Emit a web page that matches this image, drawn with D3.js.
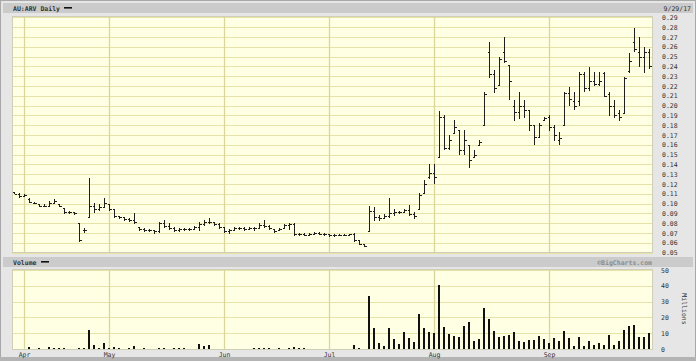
<!DOCTYPE html>
<html>
<head>
<meta charset="utf-8">
<script src="https://cdnjs.cloudflare.com/ajax/libs/d3/7.8.5/d3.min.js"></script>
<style>
  body { margin: 0; background: #fff; }
  svg { display: block; }
  .lbl { font-family: "DejaVu Sans Mono", monospace; font-size: 6.5px; fill: #333; }
  .hdr { font-family: "DejaVu Sans Mono", monospace; font-size: 6.5px; font-weight: bold; fill: #333; }
</style>
</head>
<body>
<svg id="chart" width="696" height="361"></svg>
<script>
// trading days 30 Mar 2017 .. 29 Sep 2017 (index 0..127)
var monthLabels = ["Apr", "May", "Jun", "Jul", "Aug", "Sep"];
var monthStart = [2, 19, 42, 63, 84, 107];

var priceTicks = [0.29, 0.28, 0.27, 0.26, 0.25, 0.24, 0.23, 0.22, 0.21, 0.20,
  0.19, 0.18, 0.17, 0.16, 0.15, 0.14, 0.13, 0.12, 0.11, 0.10, 0.09, 0.08,
  0.07, 0.06, 0.05];
var volumeTicks = [0, 10, 20, 30, 40, 50];

var high = [0.112, 0.111, 0.110, 0.106, 0.102, 0.100, 0.100, 0.103, 0.105, 0.100,
  0.095, 0.092, 0.091, 0.080, 0.075, 0.126, 0.101, 0.100, 0.106, 0.100,
  0.095, 0.087, 0.086, 0.085, 0.090, 0.076, 0.075, 0.074, 0.073, 0.081,
  0.083, 0.080, 0.076, 0.075, 0.075, 0.075, 0.077, 0.081, 0.083, 0.085,
  0.081, 0.080, 0.076, 0.074, 0.076, 0.076, 0.076, 0.076, 0.076, 0.080,
  0.083, 0.078, 0.074, 0.075, 0.079, 0.080, 0.080, 0.070, 0.070, 0.070,
  0.071, 0.071, 0.070, 0.069, 0.069, 0.069, 0.069, 0.069, 0.070, 0.063,
  0.059, 0.098, 0.097, 0.088, 0.089, 0.106, 0.095, 0.092, 0.094, 0.099,
  0.091, 0.111, 0.124, 0.140, 0.140, 0.195, 0.190, 0.170, 0.185, 0.175,
  0.175, 0.160, 0.155, 0.165, 0.214, 0.265, 0.236, 0.250, 0.270, 0.241,
  0.206, 0.214, 0.206, 0.196, 0.180, 0.182, 0.188, 0.190, 0.180, 0.173,
  0.214, 0.219, 0.214, 0.234, 0.234, 0.239, 0.234, 0.234, 0.234, 0.214,
  0.206, 0.196, 0.229, 0.254, 0.279, 0.270, 0.260, 0.258];
var low = [0.110, 0.106, 0.107, 0.101, 0.100, 0.097, 0.097, 0.098, 0.100, 0.097,
  0.090, 0.090, 0.089, 0.061, 0.071, 0.086, 0.091, 0.093, 0.097, 0.093,
  0.086, 0.085, 0.083, 0.082, 0.080, 0.073, 0.072, 0.072, 0.070, 0.071,
  0.076, 0.074, 0.072, 0.072, 0.073, 0.073, 0.074, 0.073, 0.078, 0.080,
  0.078, 0.075, 0.071, 0.070, 0.073, 0.074, 0.073, 0.074, 0.073, 0.075,
  0.076, 0.074, 0.071, 0.073, 0.075, 0.074, 0.068, 0.068, 0.068, 0.068,
  0.070, 0.069, 0.068, 0.067, 0.067, 0.068, 0.068, 0.068, 0.061, 0.058,
  0.056, 0.072, 0.083, 0.083, 0.085, 0.086, 0.088, 0.090, 0.091, 0.088,
  0.085, 0.094, 0.111, 0.126, 0.121, 0.148, 0.155, 0.155, 0.172, 0.150,
  0.150, 0.137, 0.147, 0.160, 0.180, 0.229, 0.213, 0.221, 0.244, 0.206,
  0.185, 0.187, 0.188, 0.175, 0.160, 0.168, 0.185, 0.175, 0.165, 0.160,
  0.180, 0.200, 0.196, 0.200, 0.214, 0.216, 0.221, 0.221, 0.209, 0.190,
  0.188, 0.185, 0.192, 0.234, 0.255, 0.240, 0.234, 0.238];
var open = [0.112, 0.110, 0.108, 0.105, 0.101, 0.100, 0.098, 0.098, 0.101, 0.100,
  0.095, 0.091, 0.091, 0.080, 0.073, 0.086, 0.098, 0.094, 0.097, 0.100,
  0.094, 0.087, 0.086, 0.084, 0.083, 0.076, 0.074, 0.073, 0.073, 0.072,
  0.080, 0.077, 0.075, 0.073, 0.074, 0.074, 0.074, 0.076, 0.079, 0.081,
  0.081, 0.079, 0.076, 0.072, 0.073, 0.075, 0.075, 0.074, 0.075, 0.075,
  0.078, 0.077, 0.074, 0.073, 0.075, 0.078, 0.079, 0.069, 0.069, 0.068,
  0.069, 0.070, 0.069, 0.069, 0.068, 0.068, 0.068, 0.068, 0.069, 0.063,
  0.059, 0.072, 0.092, 0.086, 0.085, 0.087, 0.090, 0.091, 0.091, 0.093,
  0.089, 0.094, 0.111, 0.127, 0.131, 0.148, 0.188, 0.157, 0.172, 0.175,
  0.155, 0.160, 0.148, 0.160, 0.180, 0.255, 0.232, 0.221, 0.255, 0.241,
  0.200, 0.193, 0.200, 0.196, 0.180, 0.168, 0.185, 0.188, 0.178, 0.165,
  0.180, 0.213, 0.205, 0.205, 0.232, 0.218, 0.225, 0.222, 0.233, 0.212,
  0.200, 0.192, 0.192, 0.235, 0.265, 0.255, 0.250, 0.255];
var close = [0.110, 0.108, 0.109, 0.102, 0.101, 0.098, 0.098, 0.101, 0.103, 0.098,
  0.091, 0.091, 0.090, 0.063, 0.073, 0.098, 0.094, 0.097, 0.101, 0.094,
  0.087, 0.086, 0.084, 0.083, 0.081, 0.074, 0.073, 0.073, 0.072, 0.080,
  0.077, 0.075, 0.073, 0.074, 0.074, 0.074, 0.076, 0.079, 0.081, 0.081,
  0.079, 0.076, 0.072, 0.073, 0.075, 0.075, 0.074, 0.075, 0.075, 0.078,
  0.077, 0.075, 0.072, 0.074, 0.078, 0.079, 0.069, 0.069, 0.068, 0.069,
  0.070, 0.069, 0.069, 0.068, 0.068, 0.068, 0.068, 0.069, 0.063, 0.059,
  0.057, 0.092, 0.086, 0.085, 0.087, 0.090, 0.091, 0.091, 0.093, 0.089,
  0.087, 0.109, 0.120, 0.131, 0.127, 0.188, 0.157, 0.165, 0.178, 0.155,
  0.165, 0.145, 0.150, 0.163, 0.212, 0.232, 0.218, 0.248, 0.245, 0.225,
  0.193, 0.200, 0.195, 0.180, 0.168, 0.180, 0.187, 0.178, 0.170, 0.167,
  0.213, 0.207, 0.200, 0.232, 0.218, 0.225, 0.222, 0.225, 0.210, 0.200,
  0.190, 0.188, 0.228, 0.245, 0.258, 0.250, 0.255, 0.240];
// millions of shares
var volume = [0.3, 0.2, 0.2, 1.0, 0.3, 0.4, 0.2, 1.3, 0.4, 0.4,
  0.4, 0.2, 0.3, 0.4, 0.4, 12.0, 2.5, 0.5, 3.6, 0.8,
  1.0, 0.5, 0.2, 0.5, 1.9, 0.2, 0.4, 0.2, 0.2, 0.4,
  0.4, 0.2, 0.4, 0.4, 0.4, 0.2, 0.2, 3.4, 2.1, 2.5,
  0.2, 0.2, 0.2, 0.3, 0.2, 0.3, 0.2, 0.2, 0.5, 0.8,
  0.6, 0.6, 0.3, 0.6, 0.3, 0.9, 1.2, 0.8, 0.4, 0.3,
  0.3, 0.3, 0.3, 0.3, 0.3, 0.2, 0.2, 0.2, 2.8, 0.9,
  0.1, 33.6, 13.4, 3.6, 1.7, 13.0, 6.4, 3.2, 11.0, 7.0,
  4.7, 22.3, 13.4, 10.9, 10.0, 40.6, 14.0, 9.8, 8.5, 7.7,
  14.7, 17.2, 5.3, 6.4, 25.7, 18.7, 11.3, 7.4, 8.3, 9.1,
  10.9, 5.3, 4.3, 5.7, 6.0, 8.1, 6.2, 4.0, 7.0, 5.1,
  11.5, 7.0, 2.1, 7.4, 2.1, 5.3, 2.6, 3.6, 2.8, 9.1,
  2.8, 5.1, 12.1, 14.5, 14.9, 7.9, 7.9, 10.0];

var svg = d3.select("#chart");
var W = 696, H = 361;
var left = 12, right = 653;
var pTop = 16, pBot = 253;
var vTop = 269, vBot = 350;

var days = d3.range(high.length);

var x = d3.scaleLinear().domain([-0.4, 127.8]).range([left, right]);
var y = d3.scaleLinear().domain([0.05, 0.29]).range([252.6, 17.4]);
var yv = d3.scaleLinear().domain([0, 50]).range([349, 270]);

// background + frame
svg.append("rect").attr("width", W).attr("height", H).attr("fill", "#e6e6e6");
svg.append("rect").attr("x", 0.5).attr("y", 0.5).attr("width", W - 1).attr("height", H - 1)
  .attr("fill", "none").attr("stroke", "#a8a8a8");
svg.append("rect").attr("x", 0).attr("y", 357).attr("width", W).attr("height", 4).attr("fill", "#b4b4b4");

// header bars
svg.append("rect").attr("x", 3).attr("y", 3).attr("width", 690).attr("height", 10).attr("fill", "#cbcbcb");
svg.append("rect").attr("x", 3).attr("y", 257).attr("width", 690).attr("height", 10).attr("fill", "#cbcbcb");

svg.append("text").attr("class", "hdr").attr("x", 13).attr("y", 10.5).text("AU:ARV Daily");
svg.append("rect").attr("x", 64).attr("y", 7).attr("width", 8).attr("height", 1.6).attr("fill", "#111");
svg.append("text").attr("class", "hdr").attr("x", 691).attr("y", 10.5)
  .attr("text-anchor", "end").style("font-weight", "normal").text("9/29/17");

svg.append("text").attr("class", "hdr").attr("x", 13).attr("y", 264.5).text("Volume");
svg.append("rect").attr("x", 41).attr("y", 261).attr("width", 8).attr("height", 1.6).attr("fill", "#111");
svg.append("text").attr("class", "hdr").attr("x", 652).attr("y", 264.5)
  .attr("text-anchor", "end").style("fill", "#8c8c8c").text("\u00A9BigCharts.com");

// panels
function panel(y0, y1, ticks, scale) {
  var g = svg.append("g");
  g.append("rect").attr("x", left).attr("y", y0).attr("width", right - left).attr("height", y1 - y0)
    .attr("fill", "#ffffe3");
  g.selectAll(".hg").data(ticks).enter().append("line")
    .attr("x1", left).attr("x2", right)
    .attr("y1", function (d) { return Math.round(scale(d)) + 0.5; })
    .attr("y2", function (d) { return Math.round(scale(d)) + 0.5; })
    .attr("stroke", "#e7e3a8").attr("stroke-width", 1);
  g.selectAll(".vg").data(monthStart).enter().append("line")
    .attr("x1", function (d) { return Math.round(x(d)) + 0.5; })
    .attr("x2", function (d) { return Math.round(x(d)) + 0.5; })
    .attr("y1", y0).attr("y2", y1)
    .attr("stroke", "#d9d69c").attr("stroke-width", 1.3);
  g.append("rect").attr("x", left + 0.5).attr("y", y0 + 0.5).attr("width", right - left - 1).attr("height", y1 - y0 - 1)
    .attr("fill", "none").attr("stroke", "#cfcfb8");
  return g;
}
panel(pTop, pBot, priceTicks, y);
panel(vTop, vBot, volumeTicks, yv);

// OHLC bars
var bars = svg.append("g").attr("stroke", "#1e1e1e").attr("stroke-width", 1)
  .attr("shape-rendering", "crispEdges");
days.forEach(function (i) {
  var cx = Math.round(x(i)) + 0.5;
  bars.append("line").attr("x1", cx).attr("x2", cx)
    .attr("y1", y(high[i])).attr("y2", y(low[i]) + 0.6);
  bars.append("line").attr("x1", cx - 2).attr("x2", cx)
    .attr("y1", Math.round(y(open[i])) + 0.5).attr("y2", Math.round(y(open[i])) + 0.5);
  bars.append("line").attr("x1", cx).attr("x2", cx + 2)
    .attr("y1", Math.round(y(close[i])) + 0.5).attr("y2", Math.round(y(close[i])) + 0.5);
});

// volume bars
svg.append("g").selectAll("rect").data(days).enter().append("rect")
  .attr("x", function (i) { return Math.round(x(i)) - 1; })
  .attr("width", 2)
  .attr("y", function (i) { return yv(volume[i]); })
  .attr("height", function (i) { return yv(0) - yv(volume[i]); })
  .attr("fill", "#111")
  .attr("shape-rendering", "crispEdges");

// axes
var pa = svg.append("g").attr("class", "lbl").attr("transform", "translate(" + right + ",0)")
  .call(d3.axisRight(y).tickValues(priceTicks).tickFormat(d3.format(".2f")).tickSize(0).tickPadding(9));
var va = svg.append("g").attr("class", "lbl").attr("transform", "translate(" + right + ",0)")
  .call(d3.axisRight(yv).tickValues(volumeTicks).tickSize(0).tickPadding(8));
var xa = svg.append("g").attr("class", "lbl").attr("transform", "translate(0," + vBot + ")")
  .call(d3.axisBottom(x).tickValues(monthStart)
    .tickFormat(function (d, i) { return monthLabels[i]; }).tickSize(0).tickPadding(2));
[pa, va, xa].forEach(function (a) {
  a.select(".domain").remove();
  a.selectAll("text").attr("fill", "#333")
    .style("font-family", "DejaVu Sans Mono, monospace").style("font-size", "6.5px");
});

svg.append("text").attr("class", "lbl")
  .attr("transform", "translate(682,309) rotate(90)")
  .attr("text-anchor", "middle").text("Millions");
</script>
</body>
</html>
